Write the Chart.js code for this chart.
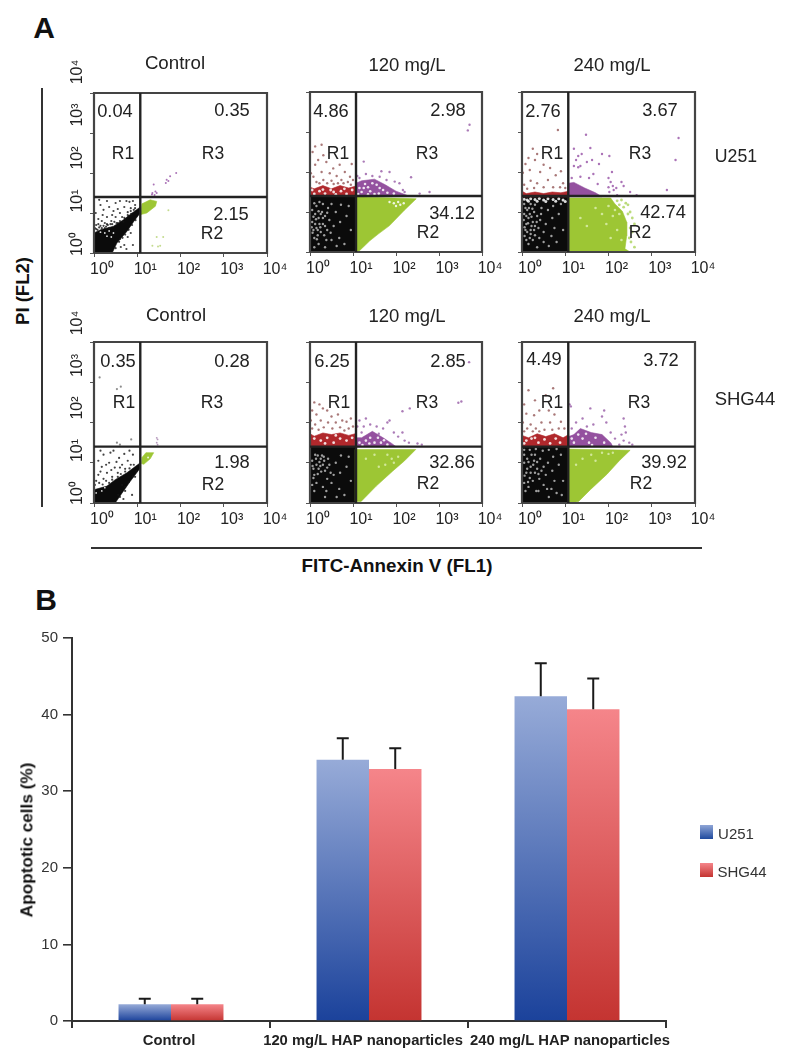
<!DOCTYPE html>
<html><head><meta charset="utf-8">
<script src="https://cdn.jsdelivr.net/npm/chart.js@4"></script>
<style>
html,body{margin:0;padding:0;background:#fff;width:791px;height:1063px;overflow:hidden}
canvas{position:absolute}
canvas.flow{filter:blur(.35px)}
.t{position:absolute;font-family:"Liberation Sans",Arial,sans-serif;color:#222;line-height:1;white-space:nowrap;transform:translate(-50%,-50%)}
.r{transform:translate(-50%,-50%) rotate(-90deg)}
.l{position:absolute;background:#333}
.sw{position:absolute;left:700px;width:13px;height:14px}
</style></head><body>
<script>
// ---------- Panel A: flow cytometry, values are log10 fluorescence (decades) ----------
const decadeLabels=['10⁰','10¹','10²','10³','10⁴'];
const gateX=1.07, gateY=1.4;

// U251 control
const p1Blob=[[0,0],[0,.5],[.15,.58],[.45,.67],[.68,.83],[.88,1],[1.07,1.15],[1.07,1],[.92,.79],[.76,.54],[.53,.25],[.42,0],[0,0]];
const p1Black=[[.05,.7],[.1,.85],[.04,1],[.15,1.2],[.2,.95],[.25,.75],[.3,1.3],[.3,.9],[.35,1.15],[.4,.8],[.45,1.05],[.5,.9],[.5,1.25],[.55,.75],[.6,1],[.6,1.3],[.65,.9],[.7,1.15],[.72,.85],[.75,1.3],[.78,1.02],[.8,.92],[.82,1.28],[.85,1.12],[.9,1.3],[.92,1.08],[.95,1.2],[.18,.62],[.08,.58],[.28,.66],[.35,.62],[.22,1.08],[.12,1.33],[.42,.95],[.55,1.1],[.68,.78],[.86,.98],[.6,.35],[.7,.2],[.75,.1],[.62,.15],[.85,.5],[.9,.2],[.78,.4],[.5,.12],[.02,.62],[.1,.72],[.18,.8],[.3,.72],[.38,.72],[.47,.78],[.05,.6],[.12,.64],[.22,.68],[.32,.7],[.42,.72],[.52,.75],[.6,.8],[.7,.88],[.78,.95],[.85,1.05],[.95,1.12],[.25,.62],[.15,.68],[.58,.28],[.66,.38],[.72,.46],[.8,.58],[.88,.7],[.96,.82]];
const p1White=[[.35,.55],[.45,.5],[.3,.42],[.15,.52],[.25,.5],[.4,.4]];
const p1Green=[[1.08,.96],[1.11,1.23],[1.3,1.33],[1.45,1.29],[1.42,1.17],[1.22,1],[1.08,.96]];
const p1GreenDots=[[1.72,1.07],[1.45,.4],[1.6,.4],[1.35,.18],[1.53,.18],[1.48,.16]];
const p1Purple=[[1.38,1.71],[1.68,1.83],[1.76,1.92],[1.9,2],[1.34,1.46],[1.42,1.54],[1.45,1.5],[1.35,1.5],[1.66,1.75],[1.72,1.8],[1.4,1.45]];

// U251 120 mg/L
const p2Rect=[[0,0],[1.07,0],[1.07,1.4],[0,1.4],[0,0]];
const p2White=[[.1,.35],[.15,.6],[.05,.75],[.2,.85],[.25,.5],[.3,.7],[.12,.95],[.28,1],[.35,.9],[.4,.55],[.08,.55],[.18,.42],[.22,.7],[.33,.42],[.45,.8],[.5,.3],[.42,1.1],[.15,1.15],[.3,1.2],[.55,.65],[.6,1],[.7,.75],[.68,.35],[.85,.9],[.8,.2],[.62,.15],[.35,.12],[.72,1.18],[.95,.55],[.9,1.15],[.05,1.05],[.38,.3],[.2,.2],[.1,.12],[.48,.48],[.25,.95],[.06,.48],[.12,.7],[.18,.55],[.08,.88],[.14,.82],[.24,.62],[.3,.85],[.04,.62],[.2,1.02],[.35,.65],[.1,1.22],[.22,1.25],[.4,.98],[.5,1.2],[.16,.32]];
const p2Band=[[0,1.4],[1.07,1.4],[1.07,1.65],[.9,1.6],[.7,1.66],[.5,1.58],[.3,1.66],[.1,1.58],[0,1.62],[0,1.4]];
const p2BandWhite=[[.1,1.45],[.22,1.52],[.35,1.46],[.48,1.55],[.6,1.44],[.72,1.52],[.85,1.45],[.98,1.55],[.05,1.55],[.3,1.56],[.55,1.5],[.8,1.58]];
const p2RedDots=[[.12,2.64],[.27,2.68],[.06,2.5],[.31,2.42],[.19,2.3],[.38,2.25],[.54,2.09],[.69,2.18],[.12,2.18],[.02,1.97],[.27,2],[.46,1.97],[.81,2],[.97,2.2],[.62,1.9],[.93,1.88],[.08,1.88],[.31,1.8],[.73,1.8],[.5,1.78],[.15,1.75],[.88,1.75],[1,1.8],[.4,1.72],[.65,1.72],[.22,1.72],[.55,1.7],[.78,1.72],[.95,1.68]];
const p2Purple=[[1.07,1.4],[1.07,1.72],[1.2,1.78],[1.5,1.82],[1.75,1.68],[2,1.52],[2.3,1.4],[1.07,1.4]];
const p2PurpleWhite=[[1.2,1.5],[1.35,1.62],[1.5,1.45],[1.62,1.6],[1.8,1.48],[1.28,1.7],[1.45,1.72],[1.15,1.6],[1.25,1.6],[1.4,1.52],[1.55,1.68],[1.7,1.55],[1.95,1.46],[1.12,1.45],[1.6,1.46],[1.35,1.44]];
const p2PurpleDots=[[1.25,2.26],[1.66,2.02],[1.85,2],[2.35,1.87],[2.78,1.5],[2.55,1.46],[2.16,1.55],[1.97,1.76],[2.08,1.72],[2.2,1.5],[3.71,3.18],[3.67,3.04],[1.15,1.85],[1.3,1.95],[1.45,1.9],[1.62,1.88],[1.78,1.8],[1.1,1.9]];
const p2Green=[[1.07,1.38],[2.47,1.33],[2.2,1.05],[1.85,.66],[1.6,.46],[1.39,.28],[1.12,0],[1.07,0],[1.07,1.38]];
const p2GreenWhite=[[1.95,1.22],[2.05,1.25],[2.1,1.18],[2,1.15],[1.85,1.25],[2.18,1.22]];

// U251 240 mg/L
const p3Rect=[[0,0],[1.08,0],[1.08,1.38],[0,1.38],[0,0]];
const p3White=[[.06,.4],[.1,.7],[.05,.95],[.15,.85],[.2,.55],[.25,.75],[.12,1.05],[.28,1],[.35,.9],[.38,.6],[.08,.55],[.18,.35],[.22,.65],[.3,.42],[.42,.8],[.5,.5],[.45,1.1],[.15,.2],[.3,1.18],[.55,.7],[.6,1.05],[.7,.85],[.68,.4],[.85,.95],[.8,.25],[.62,.15],[.35,.12],[.72,1.15],[.95,.55],[.9,1.2],[.05,1.2],[.2,1.2],[.1,.3],[.25,.3],[.5,.25],[.75,.6],[.4,.35],[.12,.5],[.28,.55],[.18,.95],[.06,.62],[.14,.72],[.04,.8],[.22,.88],[.3,.65],[.1,.9],[.16,1.1],[.34,.75],[.24,1.08],[.44,.95],[.08,1.1],[.2,.45]];
const p3Strip=[[.05,1.32],[.12,1.3],[.2,1.33],[.3,1.31],[.4,1.34],[.5,1.3],[.6,1.33],[.72,1.31],[.85,1.33],[.95,1.3],[.15,1.27],[.35,1.27],[.55,1.26],[.78,1.27],[1,1.26]];
const p3Band=[[0,1.38],[1.08,1.38],[1.08,1.52],[.9,1.48],[.7,1.5],[.5,1.46],[.3,1.5],[.1,1.46],[0,1.52],[0,1.38]];
const p3RedDots=[[.83,3.05],[.25,2.58],[.35,2.45],[.15,2.35],[.3,2.3],[.08,2.2],[.5,2.18],[.18,2.05],[.65,2.1],[.42,2],[.9,2.02],[.02,1.98],[.78,1.92],[.6,1.8],[.2,1.78],[.95,1.72],[.35,1.72],[.05,1.68],[.5,1.62],[.72,1.62],[.88,1.62],[.28,1.6],[.12,1.58],[1,1.6]];
const p3Purple=[[1.08,1.38],[1.08,1.72],[1.2,1.74],[1.45,1.6],[1.7,1.48],[1.85,1.38],[1.08,1.38]];
const p3PurpleDots=[[1.48,2.93],[1.2,2.58],[1.58,2.6],[1.3,2.4],[1.25,2.3],[1.38,2.45],[1.5,2.25],[1.2,2.15],[1.3,2.12],[1.35,2.15],[1.62,2.3],[1.85,2.45],[2.02,2.4],[1.78,2.2],[2.08,2],[2,1.85],[2.05,1.75],[2.1,1.65],[2,1.62],[2.12,1.55],[2.3,1.75],[2.35,1.65],[2.5,1.5],[2.65,1.42],[3.35,1.55],[3.62,2.85],[3.55,2.3],[1.55,1.85],[1.65,1.95],[1.15,1.85],[1.75,1.7],[1.35,1.88],[2.18,1.6],[2.02,1.5],[2.2,1.42]];
const p3Green=[[1.08,1.35],[2.05,1.35],[2.15,1.2],[2.32,1.02],[2.42,.75],[2.42,.4],[2.38,.08],[2.5,0],[1.08,0],[1.08,1.35]];
const p3GreenDots=[[2.3,1.3],[2.2,1.28],[2.45,1.18],[2.35,1.12],[2.5,1],[2.55,.85],[2.6,.7],[2.55,.5],[2.52,.25],[2.6,.12],[2.4,1.22],[2.25,1.18],[2.45,.95],[2.5,.6],[2.48,.35]];
const p3GreenWhite=[[2,1.15],[1.85,.95],[2.1,.9],[1.95,.7],[1.7,1.1],[2.2,.55],[2.05,.35],[1.5,.65],[2.25,.95],[1.35,.85],[2.3,.3],[2.15,1.05]];

// SHG44 control
const p4Blob=[[0,0],[0,.33],[.3,.42],[.49,.58],[.76,.75],[1.07,1],[1.07,.87],[.84,.54],[.65,.25],[.49,0],[0,0]];
const p4Black=[[.05,.55],[.1,.7],[.18,.9],[.22,.6],[.3,.75],[.35,1],[.42,.65],[.48,.88],[.55,.75],[.58,1.12],[.65,.95],[.72,.85],[.78,1.05],[.85,.95],[.9,1.2],[.1,1.05],[.22,1.2],[.38,1.25],[.02,.45],[.12,.5],[.28,.55],[.45,1.3],[.7,1.22],[.82,1.3],[.15,1.3],[.6,.15],[.72,.3],[.68,.1],[.65,.45],[.88,.2],[.95,.65],[.28,.95],[.4,.82],[.6,.88],[.15,.78],[.52,1.02],[.2,.46],[.35,.5],[.42,.58],[.55,.65],[.62,.72],[.72,.78],[.82,.86],[.92,.95],[.56,.2],[.62,.3],[.72,.4],[.8,.52],[.9,.66],[.98,.8]];
const p4Sparse=[[.13,3.12],[0,2.92],[.53,2.83],[.62,2.89],[.86,1.58],[.53,1.5],[.6,1.45]];
const p4White=[[.1,.4],[.18,.3],[.25,.38],[.05,.25]];
const p4Green=[[1.11,1.13],[1.2,1.25],[1.38,1.25],[1.3,1.1],[1.15,.96],[1.1,.98],[1.11,1.13]];
const p4GreenWhite=[[1.25,1.13]];
const p4Purple=[[1.47,1.58],[1.45,1.5],[1.47,1.45],[1.45,1.62]];

// SHG44 120 mg/L
const p5Rect=[[0,0],[1.05,0],[1.05,1.4],[0,1.4],[0,0]];
const p5White=[[.1,.7],[.15,.95],[.05,1.05],[.2,.85],[.25,1.1],[.3,.95],[.12,1.2],[.28,1.18],[.35,.8],[.4,.6],[.08,.85],[.18,.72],[.22,1.02],[.33,1.05],[.45,.95],[.5,.5],[.42,1.1],[.15,.5],[.3,.4],[.55,.7],[.6,1],[.7,.75],[.68,.35],[.85,.9],[.8,.2],[.62,.15],[.35,.15],[.72,1.18],[.95,.55],[.9,1.15],[.05,.45],[.38,.3],[.1,.3],[.48,.75],[.06,.92],[.14,1.1],[.24,.92],[.32,1.15],[.18,1.18],[.08,.62],[.26,.78],[.4,.88]];
const p5Band=[[0,1.4],[1.05,1.4],[1.05,1.72],[.9,1.68],[.7,1.74],[.5,1.7],[.3,1.74],[.1,1.66],[0,1.72],[0,1.4]];
const p5BandWhite=[[.1,1.6],[.25,1.55],[.4,1.62],[.55,1.5],[.7,1.6],[.85,1.55],[.98,1.62],[.35,1.48],[.6,1.68]];
const p5RedDots=[[.1,2.5],[.22,2.45],[.05,2.3],[.3,2.35],[.15,2.2],[.4,2.3],[.5,2.15],[.65,2.2],[.75,2.05],[.02,2.05],[.25,2.05],[.42,2],[.6,2],[.85,2.02],[.95,2.1],[.12,1.95],[.32,1.88],[.52,1.85],[.7,1.88],[.9,1.85],[.2,1.82],[.05,1.85],[1,1.9],[.8,1.8]];
const p5Purple=[[1.05,1.4],[1.05,1.62],[1.2,1.62],[1.45,1.78],[1.7,1.62],[1.9,1.48],[2,1.4],[1.05,1.4]];
const p5PurpleWhite=[[1.15,1.5],[1.3,1.55],[1.5,1.5],[1.65,1.5],[1.8,1.45],[1.4,1.62],[1.22,1.44],[1.58,1.62],[1.72,1.56],[1.38,1.48]];
const p5PurpleDots=[[1.15,2.05],[1.3,2.1],[1.1,1.9],[1.25,1.9],[1.4,1.95],[1.55,1.9],[1.7,1.85],[1.85,2.05],[1.8,2],[1.95,1.75],[2.05,1.65],[2.15,1.75],[2.2,1.55],[2.32,2.35],[2.15,2.28],[2.3,1.5],[2.5,1.48],[2.6,1.45],[3.45,2.49],[3.52,2.52],[3.7,3.5],[1.2,1.75],[1.6,1.72]];
const p5Green=[[1.05,1.33],[2.46,1.33],[2.2,1.05],[1.92,.79],[1.54,.42],[1.19,.04],[1.05,.04],[1.05,1.33]];
const p5GreenWhite=[[1.9,1.1],[1.95,1],[1.75,.95],[2.05,1.15],[1.8,1.2],[1.6,.9],[1.3,1.1],[1.5,1.2]];

// SHG44 240 mg/L
const p6Rect=[[0,0],[1.08,0],[1.08,1.4],[0,1.4],[0,0]];
const p6White=[[.05,.5],[.1,.75],[.05,1],[.2,.9],[.25,.55],[.3,.75],[.12,1.1],[.28,1.05],[.35,.85],[.4,.6],[.08,.3],[.18,.62],[.22,1.2],[.33,.3],[.45,.8],[.5,.45],[.42,1.1],[.15,.4],[.3,1.2],[.55,.7],[.6,1],[.7,.8],[.68,.35],[.85,.95],[.8,.25],[.62,.15],[.72,1.15],[.95,.55],[.9,1.2],[.05,1.2],[.38,.3],[.15,1.02],[.5,.9],[.75,.55],[.92,.2],[.35,1.02],[.58,.35],[.12,.85],[.05,1.32],[.18,1.32],[.32,1.34],[.48,1.3],[.62,1.32],[.8,1.34],[.06,.68],[.2,.75],[.14,.52],[.26,.95],[.38,.72]];
const p6Band=[[0,1.4],[1.08,1.4],[1.08,1.7],[.95,1.62],[.75,1.72],[.55,1.65],[.35,1.72],[.15,1.62],[0,1.68],[0,1.4]];
const p6BandWhite=[[.1,1.55],[.22,1.6],[.38,1.5],[.52,1.58],[.65,1.48],[.78,1.6],[.3,1.62],[.05,1.48],[.88,1.5]];
const p6RedDots=[[.15,2.8],[.72,2.85],[.3,2.55],[.05,2.45],[.55,2.68],[.4,2.3],[.1,2.22],[.62,2.3],[.75,2.2],[.28,2.18],[.9,2.02],[.02,2],[.2,1.95],[.45,2],[.65,2],[.85,1.85],[.12,1.85],[.32,1.85],[.52,1.82],[.7,1.82],[.98,1.85],[.05,1.78],[.25,1.78],[.4,1.78]];
const p6Purple=[[1.08,1.4],[1.08,1.65],[1.2,1.7],[1.35,1.85],[1.6,1.75],[1.85,1.7],[2.05,1.5],[2.1,1.4],[1.08,1.4]];
const p6PurpleWhite=[[1.2,1.5],[1.4,1.6],[1.55,1.5],[1.7,1.62],[1.9,1.5],[1.3,1.7],[1.15,1.6],[1.48,1.72],[1.62,1.44]];
const p6PurpleDots=[[1.1,2.45],[1.13,2.4],[1.58,2.35],[1.9,2.3],[1.4,2.1],[1.85,2.15],[1.95,2],[2.35,2.1],[2.38,1.9],[2.4,1.75],[2.3,1.7],[2.35,1.55],[2.05,1.75],[2.15,1.6],[2.48,1.5],[2.55,1.45],[1.25,2],[1.65,1.95],[1.15,1.85],[1.5,1.9],[2.05,1.45],[2.25,1.45]];
const p6Green=[[1.08,1.34],[2.5,1.31],[2.25,1.05],[1.96,.71],[1.58,.33],[1.31,.04],[1.08,0],[1.08,1.34]];
const p6GreenWhite=[[1.85,1.25],[2,1.22],[2.1,1.25],[1.4,1.1],[1.25,.95],[1.6,1.2],[1.7,1.05]];

// ---------- Panel B: bars ----------
const barCategories=['Control','120 mg/L HAP nanoparticles','240 mg/L HAP nanoparticles'];
const u251Values=[2.2,34.1,42.4];
const shg44Values=[2.2,32.9,40.7];
const u251Errors=[0.7,2.8,4.3];
const shg44Errors=[0.7,2.7,4.0];
const percentTicks=[0,10,20,30,40,50];

const BLACK='#0b0b0b',SPECK='rgba(175,175,175,.9)',WHITE='rgba(255,255,255,.85)',GREEN='#9dc634',RED='#b0282c',BROWN='rgba(160,105,105,.9)',PURPLE='#94519f';
const fill=(data,color)=>({kind:'fill',data,color});
const dots=(data,color,r)=>({kind:'dots',data,color,r});

function panel(x0,y0,x1,y1,layers,showY,yStep,yShift,xShift){
  const L=47,T=35,R=25,B=35,w=x1-x0,h=y1-y0;
  const c=document.createElement('canvas');c.className='flow';
  c.width=w+L+R;c.height=h+T+B;c.style.left=(x0-L)+'px';c.style.top=(y0-T)+'px';
  c.style.width=c.width+'px';c.style.height=c.height+'px';
  document.body.appendChild(c);
  const ds=layers.map(l=>l.kind==='fill'
    ?{data:l.data,showLine:true,fill:'shape',backgroundColor:l.color,borderColor:l.color,borderWidth:.6,pointRadius:0,tension:0}
    :{data:l.data,showLine:false,backgroundColor:l.color,borderWidth:0,pointRadius:l.r,pointStyle:'circle'});
  const line=(data,col,bw)=>({data,showLine:true,fill:false,borderColor:col,borderWidth:bw,pointRadius:0,tension:0,clip:false});
  ds.push(line([[0,0],[4,0],[4,4],[0,4],[0,0]],'#444',2.2));
  ds.push(line([[gateX,0],[gateX,4]],'#222',2.4));
  ds.push(line([[0,gateY],[4,gateY]],'#222',2.4));
  ds.forEach((d,i)=>d.order=ds.length-i);
  const scales={
    x:{type:'linear',min:0,max:4,afterFit:s=>{s.height=B},afterBuildTicks:s=>{s.ticks=[0,1,2,3,4].map(v=>({value:v}))},
       grid:{drawOnChartArea:false,tickLength:4,color:'#555'},border:{display:false},
       ticks:{autoSkip:false,maxRotation:0,padding:3,labelOffset:xShift,color:'#222',font:{family:'"Liberation Sans",Arial',size:16},callback:(v)=>decadeLabels[v]}},
    y:{type:'linear',min:0,max:4,weight:0,afterFit:s=>{s.width=showY?4:L},afterBuildTicks:s=>{s.ticks=[0,1,2,3,4].map(v=>({value:v}))},
       grid:{drawOnChartArea:false,tickLength:4,color:'#555'},border:{display:false},ticks:{display:false}}
  };
  if(showY){
    scales.yl={type:'linear',position:'left',weight:1,min:0,max:h/yStep,afterFit:s=>{s.width=L-4},
      afterBuildTicks:s=>{s.ticks=[0,1,2,3,4].map(v=>({value:v}))},
      grid:{display:false,drawTicks:false},border:{display:false},
      ticks:{autoSkip:false,minRotation:90,maxRotation:90,crossAlign:'center',padding:0,labelOffset:yShift,color:'#222',font:{family:'"Liberation Sans",Arial',size:16},callback:(v)=>decadeLabels[v]}};
  }
  new Chart(c,{type:'scatter',data:{datasets:ds},options:{responsive:false,animation:false,devicePixelRatio:1,
    layout:{padding:{top:T,right:R,left:0,bottom:0}},plugins:{legend:{display:false},tooltip:{enabled:false}},scales}});
}

panel(94,93,267,253,[fill(p1Blob,BLACK),dots(p1Black,'rgba(20,20,20,.8)',1.1),dots(p1White,WHITE,.9),fill(p1Green,GREEN),dots(p1GreenDots,'rgba(190,215,130,.9)',1),dots(p1Purple,'rgba(150,80,165,.8)',1)],true,43,-9,8);
panel(310,92,482,252,[fill(p2Rect,BLACK),dots(p2White,SPECK,1.2),fill(p2Band,RED),dots(p2BandWhite,WHITE,1.4),dots(p2RedDots,BROWN,1.2),fill(p2Purple,PURPLE),dots(p2PurpleWhite,WHITE,1.3),dots(p2PurpleDots,'rgba(150,90,165,.8)',1.2),fill(p2Green,GREEN),dots(p2GreenWhite,WHITE,1.2)],false,43,0,8);
panel(522,92,695,252,[fill(p3Rect,BLACK),dots(p3White,SPECK,1.2),dots(p3Strip,WHITE,1.5),fill(p3Band,RED),dots(p3RedDots,BROWN,1.2),fill(p3Purple,PURPLE),dots(p3PurpleDots,'rgba(150,80,165,.8)',1.2),fill(p3Green,GREEN),dots(p3GreenDots,'rgba(170,210,90,.8)',1.4),dots(p3GreenWhite,'rgba(215,235,165,.9)',1.3)],false,43,0,8);
panel(94,342,267,503,[fill(p4Blob,BLACK),dots(p4Black,'rgba(20,20,20,.8)',1.1),dots(p4Sparse,'rgba(120,120,120,.85)',1.1),dots(p4White,WHITE,.9),fill(p4Green,GREEN),dots(p4GreenWhite,WHITE,1),dots(p4Purple,'rgba(150,110,160,.7)',.9)],true,42.5,-10,8);
panel(310,342,482,503,[fill(p5Rect,BLACK),dots(p5White,SPECK,1.2),fill(p5Band,RED),dots(p5BandWhite,WHITE,1.4),dots(p5RedDots,BROWN,1.2),fill(p5Purple,PURPLE),dots(p5PurpleWhite,WHITE,1.3),dots(p5PurpleDots,'rgba(150,90,165,.8)',1.2),fill(p5Green,GREEN),dots(p5GreenWhite,'rgba(215,235,165,.9)',1.2)],false,43,0,8);
panel(522,342,695,503,[fill(p6Rect,BLACK),dots(p6White,SPECK,1.2),fill(p6Band,RED),dots(p6BandWhite,WHITE,1.4),dots(p6RedDots,BROWN,1.2),fill(p6Purple,PURPLE),dots(p6PurpleWhite,WHITE,1.3),dots(p6PurpleDots,'rgba(150,90,165,.8)',1.2),fill(p6Green,GREEN),dots(p6GreenWhite,'rgba(215,235,165,.9)',1.2)],false,43,0,8);

// ---------- Bar chart ----------
const gradient=(ctx,top,bottom)=>{
  const y=ctx.chart.scales.y;
  if(ctx.type!=='data'||!y) return bottom;
  const y0=y.getPixelForValue(ctx.chart.data.datasets[ctx.datasetIndex].data[ctx.dataIndex]),y1=y.getPixelForValue(0);
  if(!isFinite(y0)||!isFinite(y1)) return bottom;
  const g=ctx.chart.ctx.createLinearGradient(0,y0,0,y1);
  g.addColorStop(0,top);g.addColorStop(1,bottom);return g;
};
const errorBars={id:'errorBars',afterDatasetsDraw(chart){
  const c=chart.ctx,y=chart.scales.y,errs=[u251Errors,shg44Errors];
  c.save();c.strokeStyle='#1a1a1a';c.lineWidth=2;
  chart.data.datasets.forEach((d,i)=>{chart.getDatasetMeta(i).data.forEach((b,j)=>{
    const top=y.getPixelForValue(d.data[j]+errs[i][j]),base=y.getPixelForValue(d.data[j]),xx=b.x;
    c.beginPath();c.moveTo(xx,base);c.lineTo(xx,top);c.moveTo(xx-6,top);c.lineTo(xx+6,top);c.stroke();
  });});
  c.restore();
}};
const labelSlots=[.49,1.47,2.515];
const bc=document.createElement('canvas');bc.width=791;bc.height=440;bc.style.left='0';bc.style.top='620px';bc.style.width='791px';bc.style.height='440px';
document.body.appendChild(bc);
new Chart(bc,{type:'bar',plugins:[errorBars],data:{labels:barCategories,datasets:[
  {label:'U251',data:u251Values,backgroundColor:c=>gradient(c,'#97abd8','#1b429b'),categoryPercentage:.53,barPercentage:1},
  {label:'SHG44',data:shg44Values,backgroundColor:c=>gradient(c,'#f5858a','#c43431'),categoryPercentage:.53,barPercentage:1}]},
 options:{responsive:false,animation:false,devicePixelRatio:1,layout:{padding:{top:18,right:125,left:0,bottom:0}},
  plugins:{legend:{display:false},tooltip:{enabled:false}},
  scales:{
   x:{weight:0,afterFit:s=>{s.height=7},grid:{drawOnChartArea:false,offset:true,tickLength:7,color:'#333',lineWidth:2},border:{color:'#333',width:2},ticks:{display:false}},
   xl:{type:'linear',position:'bottom',weight:1,min:0,max:3,offset:false,afterFit:s=>{s.height=32},afterBuildTicks:s=>{s.ticks=labelSlots.map(v=>({value:v}))},
      grid:{display:false,drawTicks:false,offset:false},border:{display:false},
      ticks:{autoSkip:false,maxRotation:0,padding:4,color:'#222',font:{family:'"Liberation Sans",Arial',size:14.8,weight:'bold'},callback:(v,i)=>barCategories[i]}},
   y:{min:0,max:50,afterFit:s=>{s.width=72},afterBuildTicks:s=>{s.ticks=percentTicks.map(v=>({value:v}))},grid:{drawOnChartArea:false,tickLength:9,color:'#333',lineWidth:1.6},border:{color:'#333',width:2},
      ticks:{padding:5,color:'#333',font:{family:'"Liberation Sans",Arial',size:15}}}
  }}});

// ---------- Text and rule lines ----------
const texts=[
 ['A',44,28,30,'bold'],['B',46,600,30,'bold'],
 ['Control',175,63,18.7],['120 mg/L',407,65,18.5],['240 mg/L',612,65,18.5],['U251',736,157,17.7],
 ['Control',176,315,18.7],['120 mg/L',407,316,18.5],['240 mg/L',612,316,18.5],['SHG44',745,399,18.5],
 ['0.04',115,111,18.3],['0.35',232,110,18.3],['R1',123,154,17.5],['R3',213,154,17.5],['2.15',231,214,18.3],['R2',212,234,17.5],
 ['4.86',331,111,18.3],['2.98',448,110,18.3],['R1',338,154,17.5],['R3',427,154,17.5],['34.12',452,213,18.3],['R2',428,233,17.5],
 ['2.76',543,111,18.3],['3.67',660,110,18.3],['R1',552,154,17.5],['R3',640,154,17.5],['42.74',663,212,18.3],['R2',640,233,17.5],
 ['0.35',118,361,18.3],['0.28',232,361,18.3],['R1',124,403,17.5],['R3',212,403,17.5],['1.98',232,462,18.3],['R2',213,485,17.5],
 ['6.25',332,361,18.3],['2.85',448,361,18.3],['R1',339,403,17.5],['R3',427,403,17.5],['32.86',452,462,18.3],['R2',428,484,17.5],
 ['4.49',544,359,18.3],['3.72',661,360,18.3],['R1',552,403,17.5],['R3',639,403,17.5],['39.92',664,462,18.3],['R2',641,484,17.5],
 ['FITC-Annexin V (FL1)',397,566,18.8,'bold'],
 ['U251',736,833,15,null,'#333'],['SHG44',742,871,15,null,'#333']
];
texts.forEach(([s,x,y,size,w,col])=>{const d=document.createElement('div');d.className='t';d.textContent=s;
 d.style.cssText=`left:${x}px;top:${y}px;font-size:${size}px;font-weight:${w||'normal'};color:${col||(w?'#111':'#222')}`;document.body.appendChild(d);});
[['PI (FL2)',23,291,18.5],['Apoptotic cells (%)',27,840,17.2]].forEach(([s,x,y,size])=>{const d=document.createElement('div');d.className='t r';d.textContent=s;
 d.style.cssText=`left:${x}px;top:${y}px;font-size:${size}px;font-weight:bold;color:#111`;document.body.appendChild(d);});
[[41,88,1.5,419],[91,547,611,1.5]].forEach(([x,y,w,h])=>{const d=document.createElement('div');d.className='l';
 d.style.cssText=`left:${x}px;top:${y}px;width:${w}px;height:${h}px`;document.body.appendChild(d);});
[[825,'#8fa5d6,#1f4a9e'],[863,'#f5858a,#c43431']].forEach(([y,g])=>{const d=document.createElement('div');d.className='sw';
 d.style.cssText=`top:${y}px;background:linear-gradient(${g})`;document.body.appendChild(d);});
</script>
</body></html>
